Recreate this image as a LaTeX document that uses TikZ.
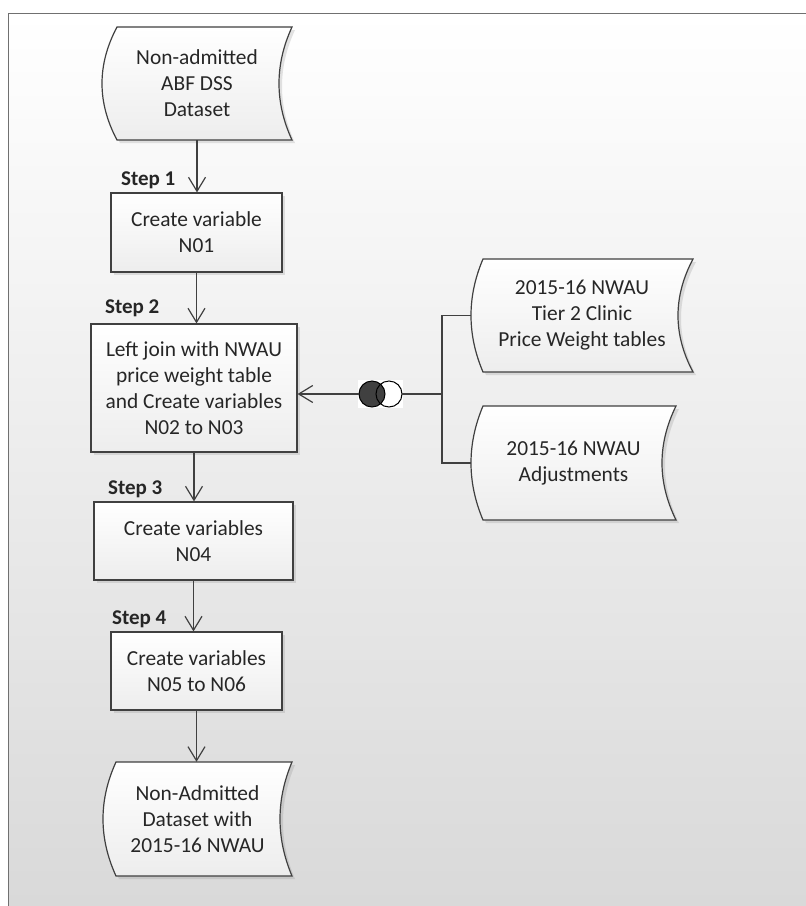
\documentclass[tikz,border=0pt]{standalone}
\usepackage{fontspec}
\setmainfont{Carlito}
\usetikzlibrary{arrows.meta,shadows,calc}
\definecolor{linec}{HTML}{404040}
\definecolor{textc}{HTML}{262626}
\definecolor{boxbot}{HTML}{EDEDED}
\definecolor{bgbot}{HTML}{D9D9D9}
\definecolor{framec}{HTML}{707070}
\tikzset{
  conn/.style={draw=linec, line width=1.2pt},
  arr/.style={conn, -{Straight Barb[length=14pt,width=17pt]}},
  txt/.style={text=textc, font=\fontsize{21.4}{26}\selectfont, align=center, inner sep=0pt},
  box/.style={txt, draw=linec, line width=1.2pt, top color=white, bottom color=boxbot,
    drop shadow={shadow xshift=3pt, shadow yshift=-3pt, opacity=0.22, fill=gray}},
  steplabel/.style={txt, font=\fontsize{21}{25}\selectfont\bfseries, anchor=west},
  sdstyle/.style={draw=linec, line width=1.2pt, top color=white, bottom color=boxbot},
  sdshadow/.style={fill=gray, opacity=0.22, draw=none}
}
% #1 L, #2 R, #3 T, #4 B, #5 d (left corner inset), #6 e (right concave depth), #7 style
\newcommand\sdshape[7]{%
  \path[#7] (#1+#5,#3) -- (#2,#3)
    .. controls ({#2-4*#6/3},{#3+(#4-#3)/3}) and ({#2-4*#6/3},{#4-(#4-#3)/3}) .. (#2,#4)
    -- (#1+#5,#4)
    .. controls ({#1-#5/3},{#4-(#4-#3)/3}) and ({#1-#5/3},{#3+(#4-#3)/3}) .. cycle;}
% #1 name, #2 L, #3 R, #4 T, #5 B, #6 d, #7 e, #8 text
\newcommand\storeddata[8]{%
  \begin{scope}[shift={(3,3)}]\sdshape{#2}{#3}{#4}{#5}{#6}{#7}{sdshadow}\end{scope}
  \sdshape{#2}{#3}{#4}{#5}{#6}{#7}{sdstyle}
  \node[txt, minimum width={(#3-#2)*1pt}, minimum height={(#5-#4)*1pt}] (#1) at ({(#2+#3)/2},{(#4+#5)/2}) {#8};}
\begin{document}
\begin{tikzpicture}[x=1pt,y=-1pt]
\useasboundingbox (0,0) rectangle (806,906);
\fill[white] (0,0) rectangle (806,906);
\shade[top color=white, bottom color=bgbot] (8,13) rectangle (806,906);
\draw[framec, line width=1pt] (806,13) -- (8,13) -- (8,906);

% main column
\storeddata{src}{102}{292}{27}{140}{15}{13}{Non-admitted\\ABF DSS\\Dataset}
\node[box, minimum width=171pt, minimum height=79pt] (b1) at (196.5,232.5) {Create variable\\N01};
\node[box, minimum width=206pt, minimum height=128pt] (b2) at (194,388) {Left join with NWAU\\price weight table\\and Create variables\\N02 to N03};
\node[box, minimum width=199pt, minimum height=78pt] (b3) at (193.5,541) {Create variables\\N04};
\node[box, minimum width=171pt, minimum height=78pt] (b4) at (196.5,671) {Create variables\\N05 to N06};
\storeddata{out}{103}{292}{762}{876}{13}{12}{Non-Admitted\\Dataset with\\2015-16 NWAU}

% step labels
\node[steplabel] (s1) at (121,180) {Step 1};
\node[steplabel] (s2) at (105,308) {Step 2};
\node[steplabel] (s3) at (108,489) {Step 3};
\node[steplabel] (s4) at (112,619) {Step 4};

% right inputs
\storeddata{r1}{471}{693}{259}{372}{12}{15}{2015-16 NWAU\\Tier 2 Clinic\\Price Weight tables}
\storeddata{r2}{471}{676}{406}{520}{12}{14}{2015-16 NWAU\\Adjustments}

% join symbol
\node[fill=white, minimum width=45pt, minimum height=28pt, inner sep=0pt] (join) at (380.5,394) {};
\coordinate (c1) at (372,394);
\coordinate (c2) at (389,394);
\coordinate (jl) at (359,394);
\coordinate (jr) at (402,394);
\fill[white] (c2) circle[radius=13];
\fill[linec] (c1) circle[radius=13];
\draw[black, line width=1pt] (c1) circle[radius=13];
\draw[black, line width=1pt] (c2) circle[radius=13];
\coordinate (br) at (442,394);

% connectors
\draw[arr] (src.south) -- (src.south |- b1.north);
\draw[arr] (b1.south) -- (b1.south |- b2.north);
\draw[arr] (b2.south) -- (b2.south |- b3.north);
\draw[arr] (b3.south) -- (b3.south |- b4.north);
\draw[arr] (b4.south) -- (b4.south |- out.north);
\draw[conn] (r1.west) -- (r1.west -| br) |- (r2.west);
\draw[conn] (br) -- (jr);
\draw[arr] (jl) -- (jl -| b2.east);
\end{tikzpicture}
\end{document}
